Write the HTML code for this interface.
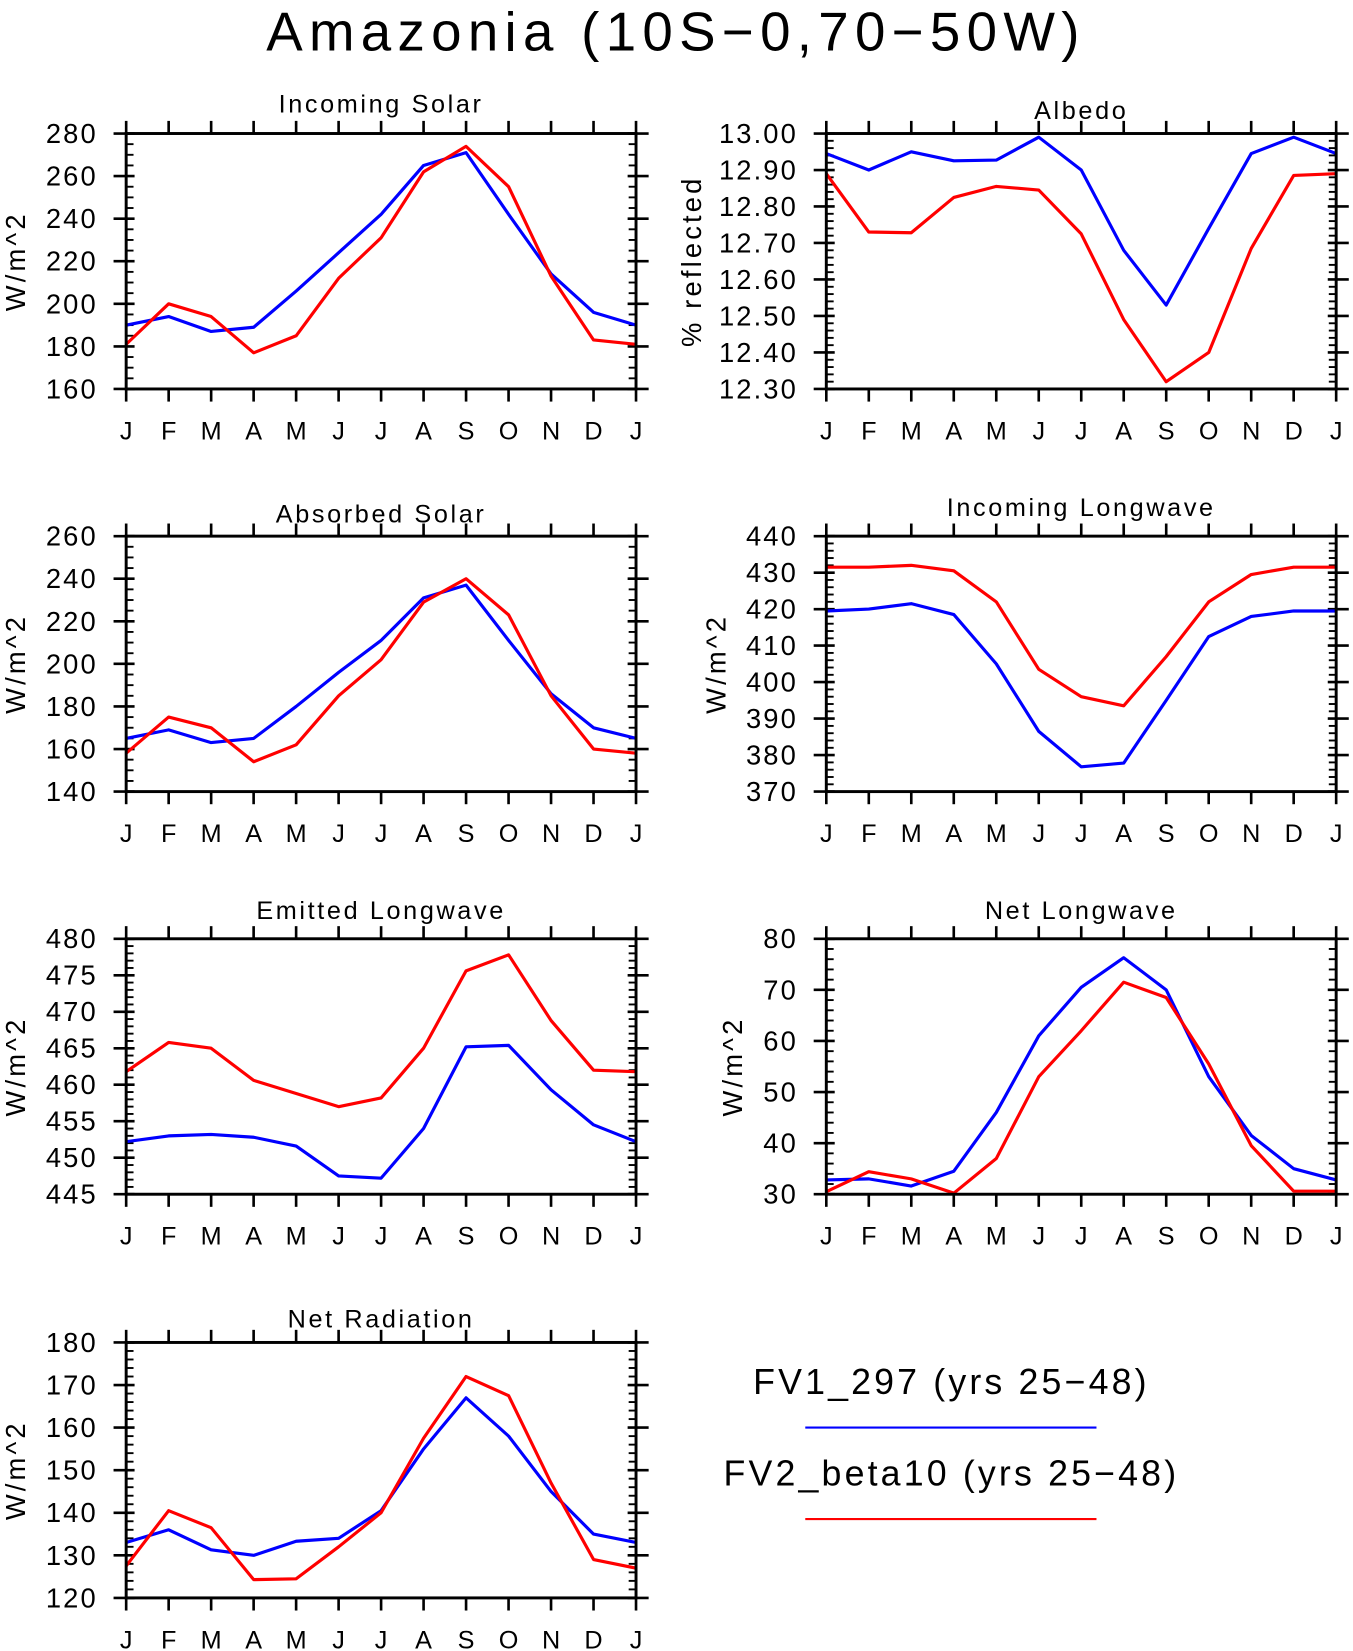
<!DOCTYPE html>
<html><head><meta charset="utf-8"><style>
html,body{margin:0;padding:0;background:#fff;}
svg{display:block;font-family:"Liberation Sans",sans-serif;}
</style></head><body>
<svg id="fig" width="1353" height="1651" viewBox="0 0 1287 1570.5" xmlns="http://www.w3.org/2000/svg">
<text x="643" y="48" font-size="52" text-anchor="middle" fill="#000" letter-spacing="6">Amazonia (10S−0,70−50W)</text>
<g>
<text x="905" y="1326" font-size="34" text-anchor="middle" letter-spacing="3">FV1_297 (yrs 25−48)</text>
<line x1="766" y1="1358" x2="1043" y2="1358" stroke="#0000ff" stroke-width="2"/>
<text x="905" y="1413" font-size="34" text-anchor="middle" letter-spacing="3">FV2_beta10 (yrs 25−48)</text>
<line x1="766" y1="1445" x2="1043" y2="1445" stroke="#ff0000" stroke-width="2"/>
</g>
</svg>
<script>
const months = ["J","F","M","A","M","J","J","A","S","O","N","D","J"];
const solarBlue = [190,194,187,189,206,224,242,265,271,242,214,196,190];
const solarRed = [181,200,194,177,185,212,231,262,274,255,213,183,181];
const albedoBlue = [12.945,12.90,12.95,12.925,12.927,12.99,12.90,12.68,12.53,12.74,12.945,12.99,12.945];
const albedoRed = [12.89,12.73,12.728,12.825,12.855,12.845,12.725,12.49,12.32,12.40,12.685,12.885,12.89];
const absBlue = [165,169,163,165,180,196,211,231,237,211,186,170,165];
const absRed = [158,175,170,154,162,185,202,229,240,223,185,160,158];
const lwInBlue = [419.5,420,421.5,418.5,405,386.5,376.8,377.8,395,412.5,418,419.5,419.5];
const lwInRed = [431.5,431.5,432,430.5,422,403.5,396,393.5,407,422,429.5,431.5,431.5];
const lwEmBlue = [452.2,453,453.2,452.8,451.6,447.5,447.2,454,465.2,465.4,459.3,454.5,452.2];
const lwEmRed = [461.8,465.8,465,460.6,458.8,457,458.2,465,475.6,477.8,468.8,462,461.8];
const netLwBlue = [32.8,33,31.6,34.5,46,61,70.5,76.3,70,53,41.5,35,32.8];
const netLwRed = [30.5,34.4,33,30.2,37,53,62,71.5,68.5,55.5,39.5,30.6,30.6];
const netRadBlue = [133,136,131.3,130,133.3,134,140.5,155,167,158,145,135,133];
const netRadRed = [127.5,140.5,136.5,124.3,124.5,132,140,157.5,172,167.5,147,129,127];
const solarTicks = [160,180,200,220,240,260,280];
const albedoTicks = [12.30,12.40,12.50,12.60,12.70,12.80,12.90,13.00];
const absTicks = [140,160,180,200,220,240,260];
const lwInTicks = [370,380,390,400,410,420,430,440];
const lwEmTicks = [445,450,455,460,465,470,475,480];
const netLwTicks = [30,40,50,60,70,80];
const netRadTicks = [120,130,140,150,160,170,180];

const NS = "http://www.w3.org/2000/svg";
const svg = document.getElementById("fig");
function mk(tag, attrs, parent){
  const e = document.createElementNS(NS, tag);
  for (const k in attrs) e.setAttribute(k, attrs[k]);
  (parent||svg).appendChild(e);
  return e;
}
const panels = [
  {name:"incoming-solar", title:"Incoming Solar", x0:120, y0:127, ticks:solarTicks, minor:4, dec:0, ylabel:"W/m^2", lx:15, blue:solarBlue, red:solarRed, ty:99},
  {name:"albedo", title:"Albedo", x0:786, y0:127, ticks:albedoTicks, minor:5, dec:2, ylabel:"% reflected", lx:658, blue:albedoBlue, red:albedoRed, ty:105},
  {name:"absorbed-solar", title:"Absorbed Solar", x0:120, y0:510, ticks:absTicks, minor:4, dec:0, ylabel:"W/m^2", lx:15, blue:absBlue, red:absRed, ty:489},
  {name:"incoming-longwave", title:"Incoming Longwave", x0:786, y0:510, ticks:lwInTicks, minor:5, dec:0, ylabel:"W/m^2", lx:681, blue:lwInBlue, red:lwInRed, ty:483},
  {name:"emitted-longwave", title:"Emitted Longwave", x0:120, y0:893, ticks:lwEmTicks, minor:5, dec:0, ylabel:"W/m^2", lx:15, blue:lwEmBlue, red:lwEmRed, ty:866},
  {name:"net-longwave", title:"Net Longwave", x0:786, y0:893, ticks:netLwTicks, minor:5, dec:0, ylabel:"W/m^2", lx:697, blue:netLwBlue, red:netLwRed, ty:866},
  {name:"net-radiation", title:"Net Radiation", x0:120, y0:1277, ticks:netRadTicks, minor:5, dec:0, ylabel:"W/m^2", lx:15, blue:netRadBlue, red:netRadRed, ty:1255}
];
const W = 485, H = 243;
panels.forEach(p => {
  const g = mk("g", {});
  
  
  const lo = p.ticks[0], hi = p.ticks[p.ticks.length-1];
  const xs = i => p.x0 + i * W / (months.length - 1);
  const ys = v => p.y0 + H - (v - lo) / (hi - lo) * H;
  const t = mk("text", {x:p.x0 + W/2, y:p.ty + 8, "font-size":24, "text-anchor":"middle", "letter-spacing":"2.5"}, g);
  t.textContent = p.title;
  
  
  const step = p.ticks[1] - p.ticks[0];
  p.ticks.forEach((v, k) => {
    const y = ys(v);
    mk("line", {x1:p.x0-12, y1:y, x2:p.x0+8, y2:y, stroke:"#000", "stroke-width":2.5}, g);
    mk("line", {x1:p.x0+W-8, y1:y, x2:p.x0+W+12, y2:y, stroke:"#000", "stroke-width":2.5}, g);
    const lb = mk("text", {x:p.x0-27, y:y+9, "font-size":26, "text-anchor":"end", "letter-spacing":"2"}, g);
    lb.textContent = v.toFixed(p.dec);
    
    
    if (k < p.ticks.length-1) {
      for (let m = 1; m < p.minor; m++) {
        const ym = ys(v + step * m / p.minor);
        mk("line", {x1:p.x0, y1:ym, x2:p.x0+7, y2:ym, stroke:"#000", "stroke-width":1.8}, g);
        mk("line", {x1:p.x0+W-7, y1:ym, x2:p.x0+W, y2:ym, stroke:"#000", "stroke-width":1.8}, g);
      }
    }
  });
  months.forEach((m, i) => {
    const x = xs(i);
    mk("line", {x1:x, y1:p.y0-12, x2:x, y2:p.y0, stroke:"#000", "stroke-width":2.5}, g);
    mk("line", {x1:x, y1:p.y0+H, x2:x, y2:p.y0+H+12, stroke:"#000", "stroke-width":2.5}, g);
    const lb = mk("text", {x:x, y:p.y0+H+48, "font-size":24, "text-anchor":"middle"}, g);
    lb.textContent = m;
    
    
  });
  const yl = mk("text", {x:0, y:0, "font-size":26, "text-anchor":"middle", "letter-spacing":"3", transform:`translate(${p.lx+9},${p.y0+H/2}) rotate(-90)`}, g);
  yl.textContent = p.ylabel;
  
  
  [["blue","#0000ff"],["red","#ff0000"]].forEach(([k,c]) => {
    const pts = p[k].map((v,i) => xs(i).toFixed(1)+","+ys(v).toFixed(1)).join(" ");
    const pl = mk("polyline", {points:pts, fill:"none", stroke:c, "stroke-width":3, "stroke-linejoin":"round"}, g);
    
    
  });
  const fr = mk("rect", {x:p.x0, y:p.y0, width:W, height:H, fill:"none", stroke:"#000", "stroke-width":2.8}, g);
  
  
});
</script>
</body></html>
